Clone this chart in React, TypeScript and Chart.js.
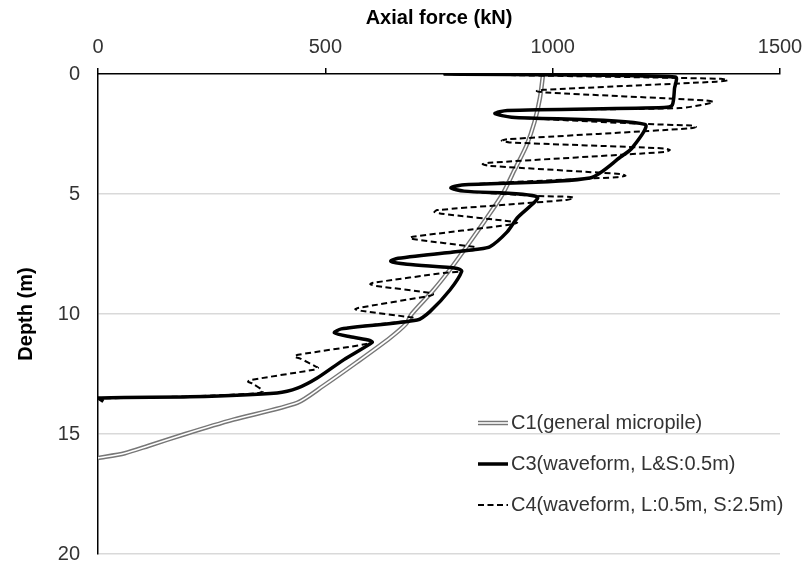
import React, { useEffect, useRef } from "react";
import { Chart, registerables } from "chart.js";

Chart.register(...registerables);

// ---- Data ----
const xTickValues = [0, 500, 1000, 1500];
const yTickValues = [0, 5, 10, 15, 20];

const seriesLabels = [
  "C1(general micropile)",
  "C3(waveform, L&S:0.5m)",
  "C4(waveform, L:0.5m, S:2.5m)",
];

// C1: general micropile (depth m, axial force kN)
const c1Depth = [0, 1, 2, 3, 4, 5, 6, 7, 8, 9, 10, 10.4, 11, 12, 13, 13.7, 14.4, 15.0, 15.5, 15.8, 16.0];
const c1Force = [979, 972, 960, 942, 916, 890, 855, 818, 780, 738, 690, 678, 642, 570, 495, 438, 298, 192, 110, 59, 0];

// C3: waveform, L&S 0.5 m
const c3Depth = [0, 0.12, 0.6, 1.3, 1.4, 1.52, 1.65, 1.8, 2.1, 3.1, 3.45, 4.33, 4.62, 4.75, 4.88, 5.12, 6.0, 6.58, 7.2, 7.3, 7.68, 7.8, 7.93, 8.1, 8.22, 9.0, 9.9, 10.25, 10.62, 10.78, 10.95, 11.1, 11.18, 11.9, 12.67, 13.08, 13.29, 13.45, 13.5, 13.64];
const c3Force = [760, 1270, 1268, 1263, 1245, 900, 873, 910, 1203, 1174, 1150, 1082, 800, 776, 805, 966, 922, 900, 862, 835, 660, 644, 680, 790, 800, 774, 730, 702, 535, 520, 555, 598, 603, 541, 482, 440, 394, 202, 0, 12];

// C4: waveform, L 0.5 m, S 2.5 m
const c4Depth = [0.0, 0.2, 0.26, 0.32, 0.66, 0.71, 0.77, 1.1, 1.17, 1.25, 1.42, 1.52, 1.65, 1.8, 2.08, 2.15, 2.2, 2.27, 2.72, 2.78, 2.85, 3.1, 3.17, 3.25, 3.7, 3.76, 3.83, 4.17, 4.24, 4.3, 4.36, 4.62, 4.75, 4.88, 5.08, 5.12, 5.17, 5.25, 5.67, 5.75, 5.82, 6.15, 6.2, 6.27, 6.78, 6.83, 6.9, 7.2, 7.25, 7.32, 7.68, 7.8, 7.93, 8.1, 8.22, 8.28, 8.7, 8.76, 8.83, 9.12, 9.18, 9.25, 9.75, 9.8, 9.87, 10.15, 10.21, 10.27, 10.62, 10.78, 10.95, 11.12, 11.25, 11.7, 11.78, 11.86, 12.2, 12.25, 12.32, 12.75, 12.82, 12.9, 13.15, 13.22, 13.3, 13.4, 13.48, 13.52];
const c4Force = [760, 1370, 1385, 1360, 980, 965, 985, 1335, 1353, 1338, 1280, 900, 873, 910, 1200, 1305, 1315, 1300, 900, 888, 905, 1245, 1258, 1245, 860, 846, 862, 1150, 1160, 1140, 1075, 800, 776, 805, 966, 1040, 1046, 1030, 746, 740, 755, 912, 922, 910, 692, 686, 700, 826, 832, 820, 660, 644, 680, 790, 800, 765, 605, 599, 612, 730, 737, 727, 572, 566, 580, 692, 698, 690, 535, 520, 555, 600, 590, 440, 432, 445, 480, 484, 475, 336, 330, 340, 360, 362, 350, 253, 100, 0];

const FONT = '"Liberation Sans", Arial, sans-serif';
const TEXT_COLOR = "#333333";

const toPoints = (force: number[], depth: number[]) =>
  force.map((f, i) => ({ x: f, y: depth[i] }));

const legendPlugin = {
  id: "insideLegend",
  afterDatasetsDraw(chart: any) {
    const ctx = chart.ctx;
    const area = chart.chartArea;
    const ds = chart.data.datasets;
    const entries = [
      { label: seriesLabels[0], layers: [0, 1] },
      { label: seriesLabels[1], layers: [2] },
      { label: seriesLabels[2], layers: [3] },
    ];
    const x0 = area.left + 380;
    const x1 = x0 + 30;
    const tx = x1 + 3;
    const yStart = area.top + 349;
    const gap = 41;
    ctx.save();
    entries.forEach((e, i) => {
      const y = yStart + i * gap;
      e.layers.forEach((li) => {
        const d = ds[li];
        ctx.beginPath();
        ctx.setLineDash(d.borderDash || []);
        ctx.strokeStyle = d.borderColor;
        ctx.lineWidth = d.borderWidth;
        ctx.moveTo(x0, y);
        ctx.lineTo(x1, y);
        ctx.stroke();
      });
      ctx.setLineDash([]);
      ctx.fillStyle = TEXT_COLOR;
      ctx.font = `20px ${FONT}`;
      ctx.textAlign = "left";
      ctx.textBaseline = "middle";
      ctx.fillText(e.label, tx, y);
    });
    ctx.restore();
  },
};

export default function App() {
  const canvasRef = useRef<HTMLCanvasElement | null>(null);

  useEffect(() => {
    if (!canvasRef.current) return;
    const chart = new Chart(canvasRef.current, {
      type: "scatter",
      data: {
        datasets: [
          {
            label: seriesLabels[0],
            data: toPoints(c1Force, c1Depth),
            showLine: true,
            borderColor: "#777777",
            borderWidth: 4.5,
            pointRadius: 0,
            tension: 0.25,
            fill: false,
            order: 4,
          },
          {
            label: seriesLabels[0] + " inner",
            data: toPoints(c1Force, c1Depth),
            showLine: true,
            borderColor: "#ffffff",
            borderWidth: 1.6,
            pointRadius: 0,
            tension: 0.25,
            fill: false,
            order: 3,
          },
          {
            label: seriesLabels[1],
            data: toPoints(c3Force, c3Depth),
            showLine: true,
            borderColor: "#000000",
            borderWidth: 3.5,
            pointRadius: 0,
            tension: 0.25,
            fill: false,
            order: 2,
          },
          {
            label: seriesLabels[2],
            data: toPoints(c4Force, c4Depth),
            showLine: true,
            borderColor: "#000000",
            borderWidth: 2,
            borderDash: [6, 3.5],
            pointRadius: 0,
            tension: 0.25,
            fill: false,
            order: 1,
          },
        ],
      },
      options: {
        animation: false,
        responsive: false,
        events: [],
        layout: { padding: { top: 0, left: 0, right: 24, bottom: 8 } },
        plugins: {
          legend: { display: false },
          tooltip: { enabled: false },
        },
        scales: {
          x: {
            type: "linear",
            position: "top",
            min: 0,
            max: 1500,
            afterBuildTicks: (s: any) => {
              s.ticks = xTickValues.map((v) => ({ value: v }));
            },
            afterFit: (s: any) => {
              s.height = 74;
              s.paddingLeft = 0;
              s.paddingRight = 0;
            },
            ticks: {
              font: { family: FONT, size: 20 },
              color: TEXT_COLOR,
              padding: 9,
              maxRotation: 0,
              callback: (v: any) => String(v),
            },
            grid: {
              drawOnChartArea: false,
              drawTicks: true,
              tickLength: 6,
              color: "#000000",
              lineWidth: 1.5,
            },
            border: { display: true, color: "#000000", width: 1.5 },
            title: {
              display: true,
              text: "Axial force (kN)",
              font: { family: FONT, size: 20, weight: "bold" },
              color: "#000000",
              padding: { top: 6, bottom: 0 },
            },
          },
          y: {
            type: "linear",
            reverse: true,
            min: 0,
            max: 20,
            afterBuildTicks: (s: any) => {
              s.ticks = yTickValues.map((v) => ({ value: v }));
            },
            afterFit: (s: any) => {
              s.width = 98;
              s.paddingTop = 0;
              s.paddingBottom = 0;
            },
            ticks: {
              font: { family: FONT, size: 20 },
              color: TEXT_COLOR,
              padding: 18,
              callback: (v: any) => String(v),
            },
            grid: {
              drawTicks: false,
              color: (c: any) => (c.tick && c.tick.value === 0 ? "rgba(0,0,0,0)" : "#d9d9d9"),
              lineWidth: 1.5,
            },
            border: { display: true, color: "#000000", width: 1.5 },
            title: {
              display: true,
              text: "Depth (m)",
              font: { family: FONT, size: 20, weight: "bold" },
              color: "#000000",
              padding: { top: 14, bottom: 0 },
            },
          },
        },
      },
      plugins: [legendPlugin],
    } as any);
    return () => chart.destroy();
  }, []);

  return (
    <div style={{ position: "fixed", left: 0, top: 0, width: 804, height: 562, background: "#fff" }}>
      <canvas ref={canvasRef} width={804} height={562} style={{ display: "block" }} />
    </div>
  );
}
